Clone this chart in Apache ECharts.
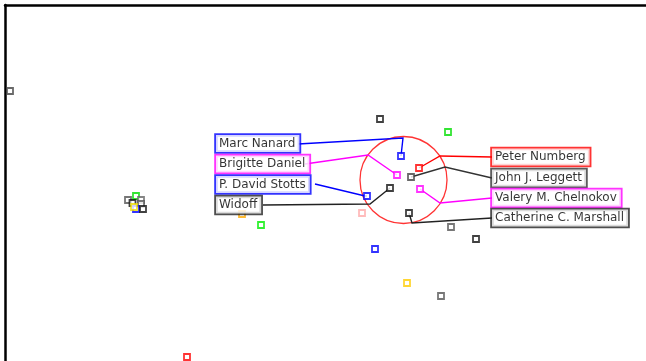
<!DOCTYPE html>
<html>
<head>
<meta charset="utf-8">
<title>fisheye</title>
<script src="https://cdn.jsdelivr.net/npm/echarts@6/dist/echarts.min.js"></script>
<style>
    html, body { margin: 0; padding: 0; background: #fff; }
    #main { width: 646px; height: 361px; }
</style>
</head>
<body>
<div id="main"></div>
<script>
// 节点数据 [x, y, 颜色]
var nodeX = [10, 380, 448, 401, 419, 397, 411, 420, 390, 367, 362, 409, 451, 476, 375, 407, 441, 187, 261, 242,
    128, 136, 132.5, 141, 141, 136, 134, 143];
var nodeY = [91, 119, 132, 156, 168, 175, 177, 189, 188, 196, 213, 213, 227, 239, 249, 283, 296, 357, 225, 214,
    200, 196, 203, 200, 204, 209, 207, 209];
var nodeColor = ['#444', '#111', '#00dd00', '#0000ff', '#ff0000', '#ff00ff', '#444', '#ff00ff', '#111', '#0000ff',
    '#ffaaaa', '#111', '#555', '#111', '#0000ff', '#ffcc00', '#555', '#ff0000', '#00ee00', '#ffaa00',
    '#555', '#00dd00', '#111', '#666', '#555', '#0000ff', '#eedd00', '#111'];

// 标签数据
var labelNames = ['Marc Nanard', 'Brigitte Daniel', 'P. David Stotts', 'Widoff',
    'Peter Numberg', 'John J. Leggett', 'Valery M. Chelnokov', 'Catherine C. Marshall'];
var labelColor = ['#0000ff', '#ff00ff', '#0000ff', '#222', '#ff0000', '#333', '#ff00ff', '#222'];
var labelX = [216, 216, 216, 216, 492, 492, 492, 492];
var labelY = [143.5, 164, 184.5, 205, 157, 178, 198, 218];
// 引线: 节点 -> 圆上的点 -> 标签边
var leadNode = [[401, 156], [397, 175], [367, 196], [390, 188], [419, 168], [411, 177], [420, 189], [409, 213]];
var leadLens = [[403, 138], [368, 155], [365, 196], [370, 204], [440, 156], [445, 167], [440, 203], [412, 223]];
var leadEnd = [[298, 144], [305, 164], [315, 184], [263, 205], [492, 157], [492, 178], [492, 198], [492, 218]];

// 透镜圆
var lensCenter = [403.5, 180];

var my_chart = echarts.init(document.getElementById('main'));

var nodeData = [];
for (let i in nodeX) {
    nodeData.push({
        value: [nodeX[i], nodeY[i]],
        itemStyle: {color: '#fff', borderColor: nodeColor[i], borderWidth: 1.8}
    });
}

var lineData = [];
for (let i in leadNode) {
    lineData.push({
        coords: [leadNode[i], leadLens[i], leadEnd[i]],
        lineStyle: {color: labelColor[i]}
    });
}

var labelData = [];
for (let i in labelNames) {
    labelData.push({
        name: labelNames[i],
        value: [labelX[i], labelY[i]],
        label: {borderColor: labelColor[i]}
    });
}

// 只画上边和左边的框线
var frameAxis = function (pos, min, max, inverse) {
    return {
        type: 'value',
        position: pos,
        min: min,
        max: max,
        inverse: inverse,
        axisLine: {show: true, onZero: false, lineStyle: {color: '#000', width: 2.5}},
        axisTick: {show: false},
        axisLabel: {show: false},
        splitLine: {show: false}
    };
};

var option = {
    animation: false,
    grid: {left: 5, top: 5, right: 0, bottom: 0, show: false},
    xAxis: frameAxis('top', 5, 646, false),
    yAxis: frameAxis('left', 5, 361, true),
    series: [
        {
            // 透镜
            type: 'scatter',
            symbol: 'circle',
            symbolSize: 87,
            z: 1,
            silent: true,
            itemStyle: {color: 'rgba(0,0,0,0)', borderColor: '#ff0000', borderWidth: 1.3},
            data: [lensCenter]
        },
        {
            type: 'lines',
            coordinateSystem: 'cartesian2d',
            polyline: true,
            z: 2,
            lineStyle: {width: 1.4, opacity: 1},
            data: lineData
        },
        {
            type: 'scatter',
            symbol: 'rect',
            symbolSize: 6,
            z: 3,
            data: nodeData
        },
        {
            type: 'scatter',
            symbolSize: 0,
            z: 4,
            label: {
                show: true,
                position: 'right',
                distance: 0,
                formatter: '{b}',
                fontFamily: 'DejaVu Sans',
                fontSize: 12,
                color: '#000',
                backgroundColor: '#fff',
                borderWidth: 1.8,
                padding: [3, 4, 2, 3]
            },
            data: labelData
        }
    ]
};
my_chart.setOption(option);
</script>
</body>
</html>
